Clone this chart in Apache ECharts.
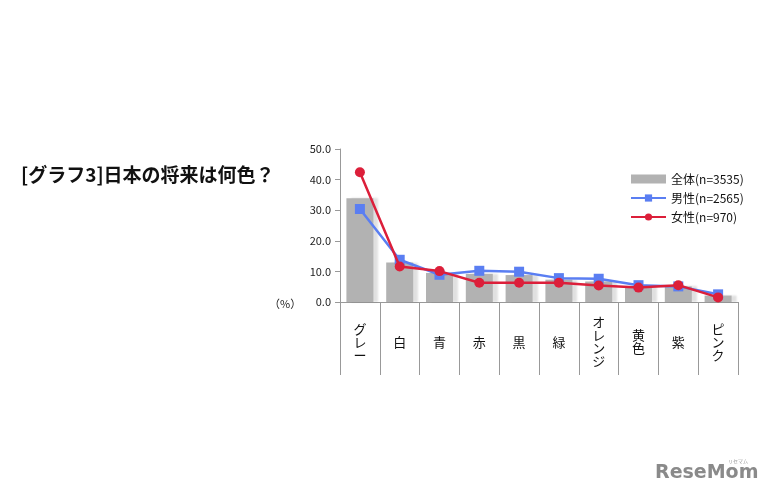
<!DOCTYPE html>
<html><head><meta charset="utf-8">
<script src="https://cdn.jsdelivr.net/npm/echarts@6/dist/echarts.min.js"></script>
<style>html,body{margin:0;padding:0;background:#fff}#c{width:765px;height:500px}</style>
</head><body><div id="c"></div>
<script>
const categories = ['グレー','白','青','赤','黒','緑','オレンジ','黄色','紫','ピンク'];
const allValues = [33.9, 12.9, 9.5, 9.2, 8.8, 7.3, 6.7, 5.1, 5.1, 2.1];
const maleValues = [30.4, 13.8, 8.9, 10.2, 9.9, 7.8, 7.6, 5.5, 5.1, 2.5];
const femaleValues = [42.4, 11.6, 10.1, 6.3, 6.3, 6.3, 5.4, 4.7, 5.5, 1.5];
const seriesNames = ['全体(n=3535)', '男性(n=2565)', '女性(n=970)'];
const titleText = '[グラフ3]日本の将来は何色？';

const font = '"Noto Sans CJK JP", "Noto Sans", sans-serif';
const chart = echarts.init(document.getElementById('c'));
chart.setOption({
  backgroundColor: '#fff',
  animation: false,
  textStyle: { fontFamily: font },
  grid: { left: 340, right: 27, top: 149, bottom: 198, containLabel: false },
  graphic: [
    { type: 'text', left: 21, top: 165, style: { text: titleText, font: 'bold 19px ' + font, fill: '#111' } },
    { type: 'text', left: 269, top: 298, style: { text: '（%）', font: '11px ' + font, fill: '#222' } },
    { type: 'text', left: 655, top: 464, style: { text: 'ReseMom', font: 'bold 19px "DejaVu Sans", sans-serif', fill: '#8a8a8a' } },
    { type: 'text', left: 728, top: 459, style: { text: 'リセマム', font: '5px ' + font, fill: '#999' } }
  ],
  legend: {
    orient: 'vertical', left: 625, top: 168, itemGap: 7,
    itemWidth: 35, itemHeight: 9,
    textStyle: { fontSize: 12, color: '#111', fontFamily: font },
    data: [
      { name: seriesNames[0], icon: 'rect' },
      { name: seriesNames[1] },
      { name: seriesNames[2] }
    ]
  },
  xAxis: {
    type: 'category', data: categories,
    axisLine: { lineStyle: { color: '#999', width: 1 } },
    axisTick: { show: true, length: 73, alignWithLabel: false, lineStyle: { color: '#999' } },
    axisLabel: {
      margin: 40, verticalAlign: 'middle', fontSize: 13, lineHeight: 13, color: '#111',
      formatter: v => v.split('').join('\n')
    }
  },
  yAxis: {
    type: 'value', min: 0, max: 50, interval: 10,
    axisLine: { show: true, lineStyle: { color: '#999' } },
    axisTick: { show: true, length: 5, lineStyle: { color: '#999' } },
    splitLine: { show: false },
    axisLabel: { formatter: v => v.toFixed(1), fontSize: 11, color: '#222', margin: 9 }
  },
  series: [
    { name: seriesNames[0], type: 'bar', data: allValues, barWidth: 27,
      itemStyle: { color: '#b2b2b2', shadowColor: 'rgba(0,0,0,0.12)', shadowOffsetX: 5, shadowOffsetY: 0, shadowBlur: 2 } },
    { name: seriesNames[1], type: 'line', data: maleValues, symbol: 'rect', symbolSize: 10,
      lineStyle: { color: '#5a7ef2', width: 2.5 }, itemStyle: { color: '#5a7ef2' }, z: 3 },
    { name: seriesNames[2], type: 'line', data: femaleValues, symbol: 'circle', symbolSize: 10,
      lineStyle: { color: '#dc1f3a', width: 2.5 }, itemStyle: { color: '#dc1f3a' }, z: 4 }
  ]
});
</script></body></html>
